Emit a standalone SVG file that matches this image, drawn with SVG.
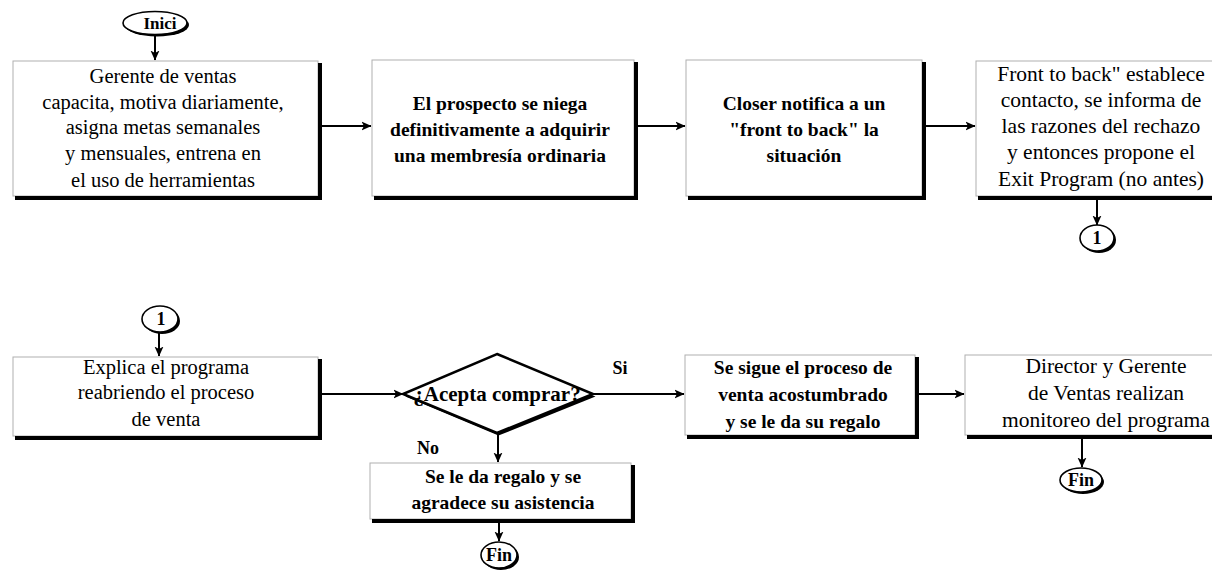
<svg xmlns="http://www.w3.org/2000/svg" width="1212" height="573" viewBox="0 0 1212 573">
  <style>
    .box { fill: #ffffff; stroke: #b0b0b0; stroke-width: 1; }
    .shadow { fill: none; stroke: #000000; stroke-width: 4; stroke-linejoin: miter; }
    .term { fill: #ffffff; stroke: #000000; stroke-width: 1.6; }
    .term-shadow { fill: #000000; }
    .edge { fill: none; stroke: #000000; stroke-width: 2; }
    .t { font-family: "Liberation Serif", "Times New Roman", serif; fill: #000000; text-anchor: middle; }
    .reg { font-size: 20.5px; }
    .big { font-size: 21.5px; }
    .bold { font-size: 19.5px; font-weight: bold; }
    .lbl { font-size: 18px; font-weight: bold; }
  </style>
  <defs>
    <marker id="arrow" viewBox="0 0 10 10" refX="9.5" refY="5" markerWidth="10" markerHeight="10" markerUnits="userSpaceOnUse" orient="auto">
      <path d="M0,0.5 L10,5 L0,9.5 L2.5,5 Z" fill="#000000"/>
    </marker>
  </defs>
  <rect width="1212" height="573" fill="#ffffff"/>

  <!-- connectors -->
  <g id="connectors">
    <line class="edge" x1="155" y1="35" x2="155" y2="60" marker-end="url(#arrow)"/>
    <line class="edge" x1="322" y1="126" x2="371" y2="126" marker-end="url(#arrow)"/>
    <line class="edge" x1="637" y1="126" x2="685" y2="126" marker-end="url(#arrow)"/>
    <line class="edge" x1="925" y1="126" x2="975" y2="126" marker-end="url(#arrow)"/>
    <line class="edge" x1="1097" y1="199" x2="1097" y2="225" marker-end="url(#arrow)"/>
    <line class="edge" x1="159" y1="332" x2="159" y2="356" marker-end="url(#arrow)"/>
    <line class="edge" x1="322" y1="394" x2="403" y2="394" marker-end="url(#arrow)"/>
    <line class="edge" x1="593" y1="394" x2="684" y2="394" marker-end="url(#arrow)"/>
    <line class="edge" x1="919" y1="394" x2="964" y2="394" marker-end="url(#arrow)"/>
    <line class="edge" x1="498" y1="433" x2="498" y2="462" marker-end="url(#arrow)"/>
    <line class="edge" x1="499" y1="522" x2="499" y2="541" marker-end="url(#arrow)"/>
    <line class="edge" x1="1082" y1="439" x2="1082" y2="467" marker-end="url(#arrow)"/>
    <text class="t lbl" x="620" y="374">Si</text>
    <text class="t lbl" x="428" y="454" font-weight="normal">No</text>
  </g>

  <!-- start terminal -->
  <g id="inicio">
    <ellipse class="term-shadow" cx="157" cy="25" rx="32" ry="11.5"/>
    <ellipse class="term" cx="155" cy="23" rx="32" ry="11.5"/>
    <text class="t" x="160" y="29" font-size="17px" font-weight="bold">Inici</text>
  </g>

  <!-- row 1 -->
  <g id="gerente">
    <rect class="box" x="13" y="61" width="305" height="135"/>
    <polyline class="shadow" points="320,63 320,198 15,198"/>
    <text class="t reg" x="163" y="83">Gerente de ventas</text>
    <text class="t reg" x="163" y="109">capacita, motiva diariamente,</text>
    <text class="t reg" x="163" y="134">asigna metas semanales</text>
    <text class="t reg" x="163" y="160">y mensuales, entrena en</text>
    <text class="t reg" x="163" y="187">el uso de herramientas</text>
  </g>

  <g id="prospecto">
    <rect class="box" x="372" y="60" width="262" height="136"/>
    <polyline class="shadow" points="636,62 636,198 374,198"/>
    <text class="t bold" x="500" y="110">El prospecto se niega</text>
    <text class="t bold" x="500" y="136">definitivamente a adquirir</text>
    <text class="t bold" x="500" y="162">una membresía ordinaria</text>
  </g>

  <g id="closer">
    <rect class="box" x="686" y="60" width="236" height="136"/>
    <polyline class="shadow" points="924,62 924,198 688,198"/>
    <text class="t bold" x="804" y="110">Closer notifica a un</text>
    <text class="t bold" x="804" y="136">"front to back" la</text>
    <text class="t bold" x="804" y="162">situación</text>
  </g>

  <g id="front-to-back">
    <rect class="box" x="976" y="61" width="250" height="135"/>
    <polyline class="shadow" points="978,198 1212,198"/>
    <text class="t big" x="1101" y="81">Front to back" establece</text>
    <text class="t big" x="1101" y="107">contacto, se informa de</text>
    <text class="t big" x="1101" y="133">las razones del rechazo</text>
    <text class="t big" x="1101" y="159">y entonces propone el</text>
    <text class="t big" x="1101" y="186">Exit Program (no antes)</text>
  </g>

  <g id="conector-salida">
    <ellipse class="term-shadow" cx="1099" cy="240" rx="17" ry="13"/>
    <ellipse class="term" cx="1097" cy="238" rx="17" ry="13"/>
    <text class="t lbl" x="1097" y="244">1</text>
  </g>

  <!-- row 2 -->
  <g id="conector-entrada">
    <ellipse class="term-shadow" cx="162" cy="321" rx="18" ry="13"/>
    <ellipse class="term" cx="160" cy="319" rx="18" ry="13"/>
    <text class="t lbl" x="161" y="325">1</text>
  </g>

  <g id="explica">
    <rect class="box" x="13" y="357" width="305" height="79"/>
    <polyline class="shadow" points="320,359 320,438 15,438"/>
    <text class="t reg" x="166" y="374">Explica el programa</text>
    <text class="t reg" x="166" y="399">reabriendo el proceso</text>
    <text class="t reg" x="166" y="426">de venta</text>
  </g>

  <g id="decision">
    <polygon points="497,356 594,395 497,434 404,395" fill="#000000" transform="translate(1.5,1.5)"/>
    <polygon points="497,354 593,394 497,433 403,394" fill="#ffffff" stroke="#000000" stroke-width="2.5" stroke-linejoin="miter"/>
    <text class="t" x="497" y="401" font-size="21px" font-weight="bold">¿Acepta comprar?</text>
  </g>

  <g id="regalo">
    <rect class="box" x="370" y="463" width="261" height="56"/>
    <polyline class="shadow" points="633,465 633,521 372,521"/>
    <text class="t bold" x="503" y="483">Se le da regalo y se</text>
    <text class="t bold" x="503" y="509">agradece su asistencia</text>
  </g>

  <g id="fin-regalo">
    <ellipse class="term-shadow" cx="501" cy="557" rx="18" ry="13"/>
    <ellipse class="term" cx="499" cy="555" rx="18" ry="13"/>
    <text class="t lbl" x="499" y="561">Fin</text>
  </g>

  <g id="proceso-venta">
    <rect class="box" x="685" y="355" width="230" height="80"/>
    <polyline class="shadow" points="917,357 917,437 687,437"/>
    <text class="t bold" x="803" y="374">Se sigue el proceso de</text>
    <text class="t bold" x="803" y="401">venta acostumbrado</text>
    <text class="t bold" x="803" y="428">y se le da su regalo</text>
  </g>

  <g id="monitoreo">
    <rect class="box" x="965" y="355" width="260" height="80"/>
    <polyline class="shadow" points="967,437 1212,437"/>
    <text class="t big" x="1106" y="373">Director y Gerente</text>
    <text class="t big" x="1106" y="400">de Ventas realizan</text>
    <text class="t big" x="1106" y="427">monitoreo del programa</text>
  </g>

  <g id="fin-monitoreo">
    <ellipse class="term-shadow" cx="1083" cy="482" rx="21" ry="12"/>
    <ellipse class="term" cx="1081" cy="480" rx="21" ry="12"/>
    <text class="t lbl" x="1081" y="486">Fin</text>
  </g>
</svg>
